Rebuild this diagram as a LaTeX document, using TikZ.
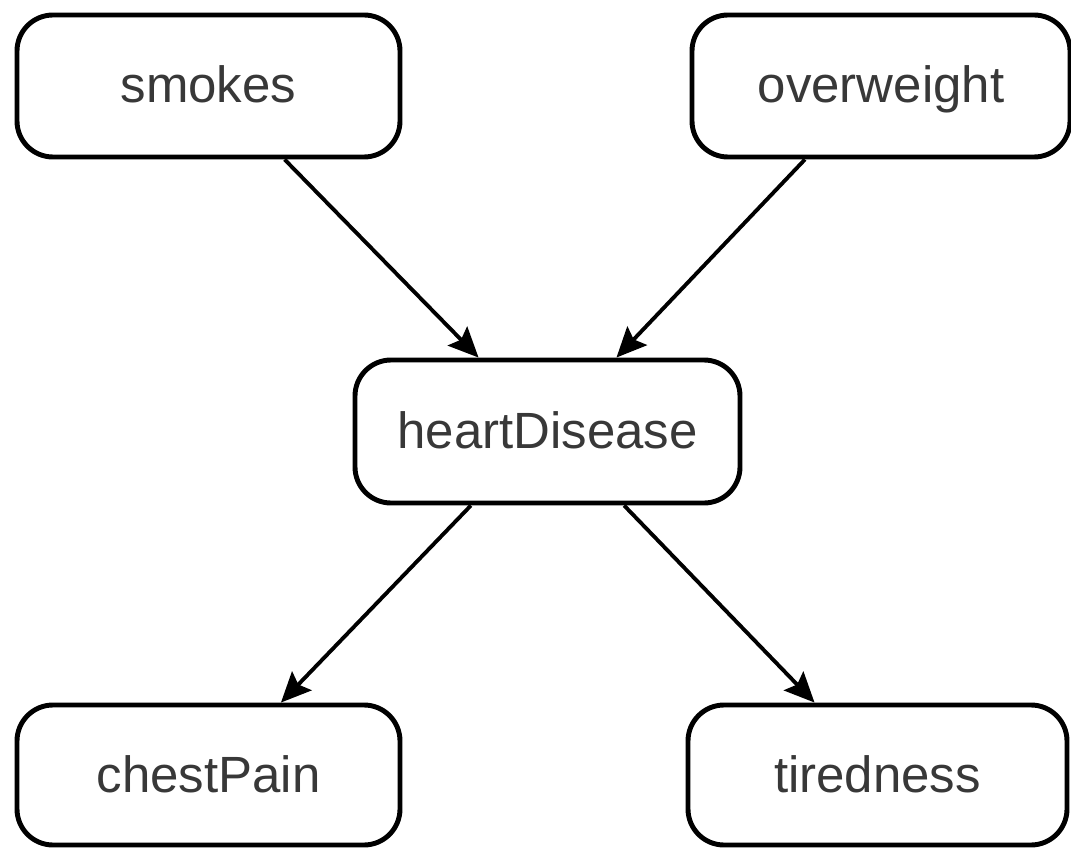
\documentclass[tikz,border=0pt]{standalone}
\usepackage{fontspec}
\setmainfont{Liberation Sans}
\usetikzlibrary{arrows.meta}
\begin{document}
\begin{tikzpicture}[
    var/.style={draw, line width=1.4pt, rounded corners=0.36cm, fill=white,
        minimum width=3.83cm, minimum height=1.42cm, inner sep=0pt,
        text height=0.4cm, text depth=0.06cm,
        text=black!78, font=\fontsize{14.5}{17}\selectfont},
    edge/.style={-{Stealth[length=0.3cm, width=0.27cm, inset=0.05cm]}, line width=1.1pt}
  ]
    \useasboundingbox (0,0) rectangle (10.71,-8.49);
    \node[var] (smokes) at (2.085,-0.86) {smokes};
    \node[var, minimum width=3.78cm] (overweight) at (8.81,-0.86) {overweight};
    \node[var, minimum width=3.85cm, minimum height=1.43cm] (heart) at (5.475,-4.315) {heartDisease};
    \node[var, minimum height=1.40cm] (chest) at (2.085,-7.75) {chestPain};
    \node[var, minimum width=3.79cm, minimum height=1.40cm] (tired) at (8.775,-7.75) {tiredness};

    \draw[edge] (smokes.-44) -- (heart.133.5);
    \draw[edge] (overweight.224.2) -- (heart.47.3);
    \draw[edge] (heart.224.6) -- (chest.45.6);
    \draw[edge] (heart.-44.6) -- (tired.131.7);
\end{tikzpicture}
\end{document}
